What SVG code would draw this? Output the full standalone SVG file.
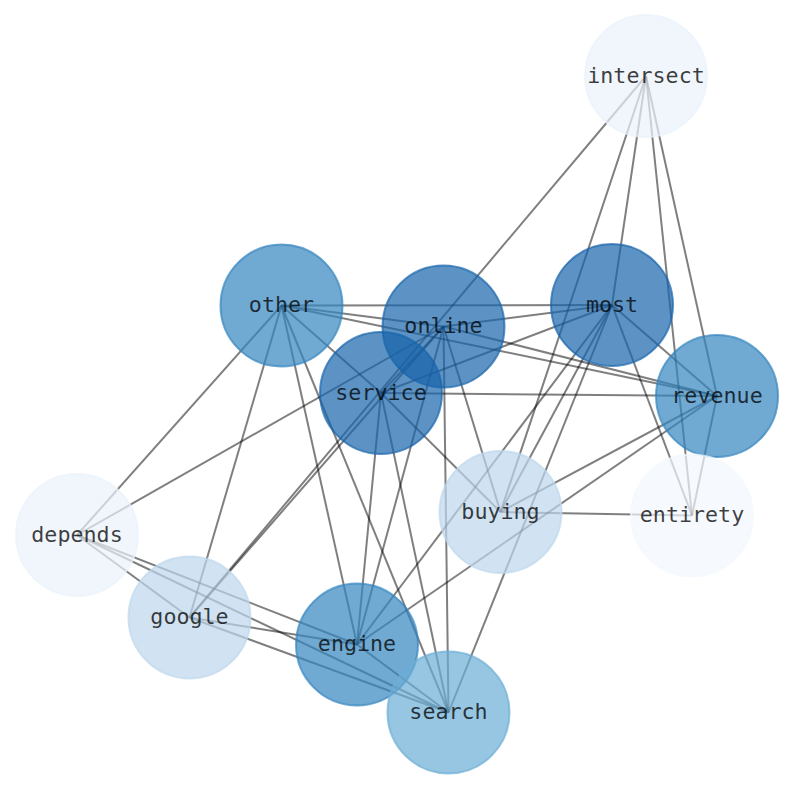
<svg xmlns="http://www.w3.org/2000/svg" width="794" height="790" viewBox="0 0 794 790">
<style>
.e{stroke:#000;stroke-opacity:0.5;stroke-width:2;fill:none}
.n{fill-opacity:0.7;stroke-opacity:0.7;stroke-width:2}
.dark{fill:#1764ab;stroke:#1764ab}
.med{fill:#3384bf;stroke:#3384bf}
.srch{fill:#6baed6;stroke:#6baed6}
.lt{fill:#bdd7ec;stroke:#bdd7ec}
.vlt{fill:#eaf2fb;stroke:#eaf2fb}
.xlt{fill:#f2f8fd;stroke:#f2f8fd}
text{font-family:"DejaVu Sans Mono","Liberation Mono",monospace;font-size:21.7px;fill:#000;fill-opacity:0.75;text-anchor:middle}
</style>
<rect width="794" height="790" fill="#fff"/>
<g id="edges">
<line class="e" x1="646" y1="76" x2="189.5" y2="617.5"/>
<line class="e" x1="646" y1="76" x2="500.5" y2="512"/>
<line class="e" x1="646" y1="76" x2="612" y2="305"/>
<line class="e" x1="646" y1="76" x2="692" y2="515.5"/>
<line class="e" x1="646" y1="76" x2="717" y2="396"/>
<line class="e" x1="281.5" y1="305.5" x2="612" y2="305"/>
<line class="e" x1="281.5" y1="305.5" x2="443.5" y2="326.5"/>
<line class="e" x1="281.5" y1="305.5" x2="717" y2="396"/>
<line class="e" x1="281.5" y1="305.5" x2="77" y2="535"/>
<line class="e" x1="281.5" y1="305.5" x2="189.5" y2="617.5"/>
<line class="e" x1="281.5" y1="305.5" x2="357" y2="644.5"/>
<line class="e" x1="281.5" y1="305.5" x2="448.5" y2="712.5"/>
<line class="e" x1="281.5" y1="305.5" x2="381" y2="393"/>
<line class="e" x1="443.5" y1="326.5" x2="612" y2="305"/>
<line class="e" x1="443.5" y1="326.5" x2="717" y2="396"/>
<line class="e" x1="443.5" y1="326.5" x2="77" y2="535"/>
<line class="e" x1="443.5" y1="326.5" x2="189.5" y2="617.5"/>
<line class="e" x1="443.5" y1="326.5" x2="500.5" y2="512"/>
<line class="e" x1="443.5" y1="326.5" x2="448.5" y2="712.5"/>
<line class="e" x1="443.5" y1="326.5" x2="357" y2="644.5"/>
<line class="e" x1="443.5" y1="326.5" x2="381" y2="393"/>
<line class="e" x1="612" y1="305" x2="381" y2="393"/>
<line class="e" x1="612" y1="305" x2="717" y2="396"/>
<line class="e" x1="612" y1="305" x2="692" y2="515.5"/>
<line class="e" x1="612" y1="305" x2="357" y2="644.5"/>
<line class="e" x1="612" y1="305" x2="500.5" y2="512"/>
<line class="e" x1="612" y1="305" x2="448.5" y2="712.5"/>
<line class="e" x1="381" y1="393" x2="717" y2="396"/>
<line class="e" x1="381" y1="393" x2="448.5" y2="712.5"/>
<line class="e" x1="381" y1="393" x2="357" y2="644.5"/>
<line class="e" x1="381" y1="393" x2="500.5" y2="512"/>
<line class="e" x1="717" y1="396" x2="500.5" y2="512"/>
<line class="e" x1="717" y1="396" x2="357" y2="644.5"/>
<line class="e" x1="717" y1="396" x2="692" y2="515.5"/>
<line class="e" x1="500.5" y1="512" x2="692" y2="515.5"/>
<line class="e" x1="77" y1="535" x2="189.5" y2="617.5"/>
<line class="e" x1="77" y1="535" x2="357" y2="644.5"/>
<line class="e" x1="77" y1="535" x2="448.5" y2="712.5"/>
<line class="e" x1="189.5" y1="617.5" x2="357" y2="644.5"/>
<line class="e" x1="189.5" y1="617.5" x2="448.5" y2="712.5"/>
<line class="e" x1="357" y1="644.5" x2="448.5" y2="712.5"/>
</g>
<g id="node-intersect"><circle class="n vlt" cx="646" cy="76" r="61"/><text x="646" y="82.5">intersect</text></g>
<g id="node-other"><circle class="n med" cx="281.5" cy="305.5" r="61"/><text x="281.5" y="312">other</text></g>
<g id="node-online"><circle class="n dark" cx="443.5" cy="326.5" r="61"/><text x="443.5" y="333">online</text></g>
<g id="node-most"><circle class="n dark" cx="612" cy="305" r="61"/><text x="612" y="311.5">most</text></g>
<g id="node-service"><circle class="n dark" cx="381" cy="393" r="61"/><text x="381" y="399.5">service</text></g>
<g id="node-revenue"><circle class="n med" cx="717" cy="396" r="61"/><text x="717" y="402.5">revenue</text></g>
<g id="node-buying"><circle class="n lt" cx="500.5" cy="512" r="61"/><text x="500.5" y="518.5">buying</text></g>
<g id="node-entirety"><circle class="n xlt" cx="692" cy="515.5" r="61"/><text x="692" y="522">entirety</text></g>
<g id="node-depends"><circle class="n vlt" cx="77" cy="535" r="61"/><text x="77" y="541.5">depends</text></g>
<g id="node-google"><circle class="n lt" cx="189.5" cy="617.5" r="61"/><text x="189.5" y="624">google</text></g>
<g id="node-engine"><circle class="n med" cx="357" cy="644.5" r="61"/><text x="357" y="651">engine</text></g>
<g id="node-search"><circle class="n srch" cx="448.5" cy="712.5" r="61"/><text x="448.5" y="719">search</text></g>
</svg>
